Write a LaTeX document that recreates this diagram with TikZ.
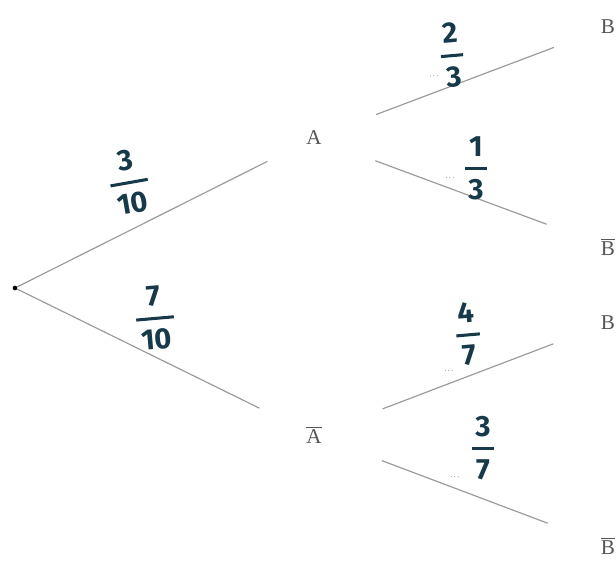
\documentclass[tikz,border=0pt]{standalone}
\usepackage{amsmath}
\usepackage{fontspec}
\usepackage{tikz}
\usepackage{xcolor}
\usetikzlibrary{positioning}
\setmainfont{Liberation Serif}
\newfontfamily\handfont{Fira Sans}
\definecolor{Ink}{HTML}{173A4A}
\definecolor{LineGray}{HTML}{9A9A9A}
\definecolor{LabelGray}{HTML}{555555}
\newcommand{\hfrac}[2]{$\genfrac{}{}{2.6pt}{0}{\text{\handfont\bfseries\hspace{3pt}#1\hspace{3pt}}}{\text{\handfont\bfseries\hspace{3pt}#2\hspace{3pt}}}$}

\begin{document}
\begin{tikzpicture}[
    x=0.03cm, y=-0.03cm,
    lbl/.style={font=\fontsize{18}{20}\selectfont, text=LabelGray, inner sep=0pt},
    branch/.style={draw=LineGray, line width=1pt},
    prob/.style={font=\fontsize{25}{27}\selectfont, text=Ink, inner sep=0pt},
    dots/.style={font=\scriptsize, text=black!55, inner sep=0pt}
]
\useasboundingbox (0,0) rectangle (616,562);

% === Events ===
\node[circle, fill=black, inner sep=0pt, minimum size=4pt] (root) at (15,288) {};
\node[lbl] (a) at (314,138) {A};
\node[lbl] (abar) at (314,435) {$\overline{\text{A}}$};
\node[lbl] (b1) at (608,27) {B};
\node[lbl] (bb1) at (608,247) {$\overline{\text{B}}$};
\node[lbl] (b2) at (608,323) {B};
\node[lbl] (bb2) at (608,546) {$\overline{\text{B}}$};

% === Branches ===
\draw[branch, shorten >=1.3cm] (root) -- (a);
\draw[branch, shorten >=1.56cm] (root) -- (abar);
\draw[branch, shorten <=1.74cm, shorten >=1.5cm] (a) -- (b1);
\draw[branch, shorten <=1.71cm, shorten >=1.73cm] (a) -- (bb1);
\draw[branch, shorten <=1.95cm, shorten >=1.52cm] (abar) -- (b2);
\draw[branch, shorten <=1.92cm, shorten >=1.7cm] (abar) -- (bb2);

% placeholders
\node[dots] (d1) at (434,76) {.\,.\,.};
\node[dots] (d2) at (450,178) {.\,.\,.};
\node[dots] (d3) at (449,371) {.\,.\,.};
\node[dots] (d4) at (455,477) {.\,.\,.};

% === Probabilities ===
\node[prob, rotate=10] (p1) at (129,182) {\hfrac{3}{10}};
\node[prob, rotate=5] (p2) at (155,318) {\hfrac{7}{10}};
\node[prob, rotate=5] (p3) at (452,55) {\hfrac{2}{3}};
\node[prob] (p4) at (476,168) {\hfrac{1}{3}};
\node[prob, rotate=5] (p5) at (468,334) {\hfrac{4}{7}};
\node[prob] (p6) at (483,448) {\hfrac{3}{7}};
\end{tikzpicture}
\end{document}
